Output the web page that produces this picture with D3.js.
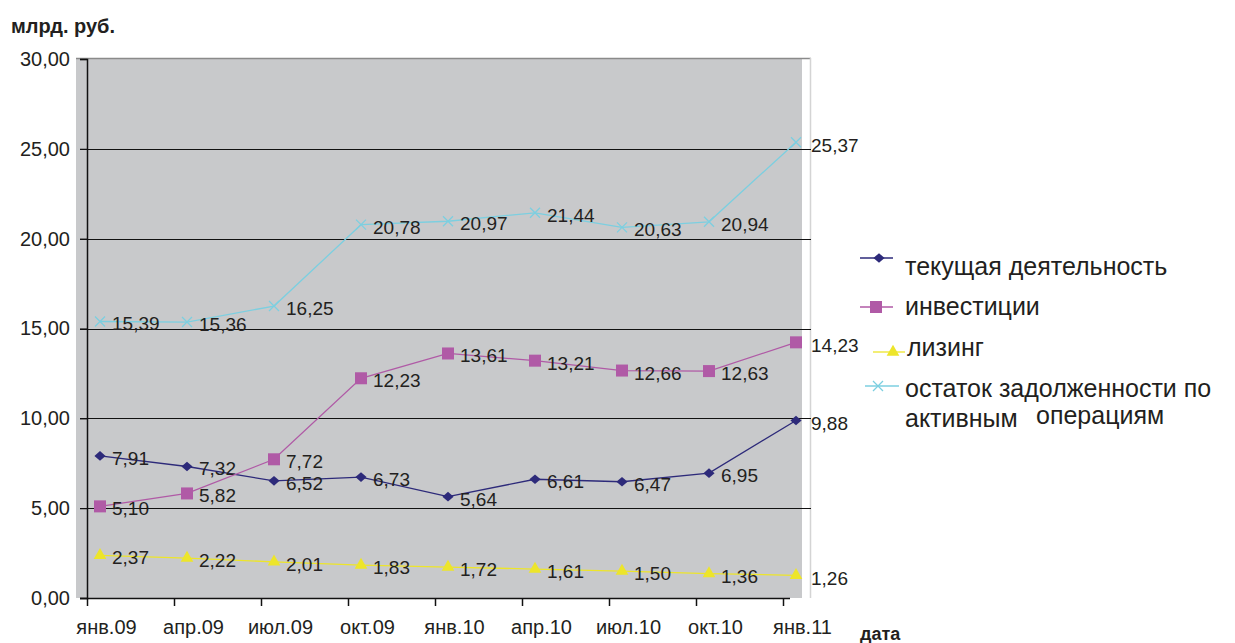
<!DOCTYPE html>
<html>
<head>
<meta charset="utf-8">
<script src="https://cdn.jsdelivr.net/npm/d3@7"></script>
<style>
  body { margin: 0; background: #fff; }
  text { font-family: "Liberation Sans", Arial, sans-serif; fill: #231f20; }
</style>
</head>
<body>
<div id="chart"></div>
<script>
// категории (даты)
const categories = ["янв.09", "апр.09", "июл.09", "окт.09", "янв.10", "апр.10", "июл.10", "окт.10", "янв.11"];

// ряды
const tekushaya = [7.91, 7.32, 6.52, 6.73, 5.64, 6.61, 6.47, 6.95, 9.88];
const investicii = [5.10, 5.82, 7.72, 12.23, 13.61, 13.21, 12.66, 12.63, 14.23];
const lizing = [2.37, 2.22, 2.01, 1.83, 1.72, 1.61, 1.50, 1.36, 1.26];
const ostatok = [15.39, 15.36, 16.25, 20.78, 20.97, 21.44, 20.63, 20.94, 25.37];

const seriesNames = ["текущая деятельность", "инвестиции", "лизинг", "остаток задолженности по активным операциям"];
const yTicks = [0, 5, 10, 15, 20, 25, 30];

const width = 1235;
const height = 643;

const series = [
    {name: seriesNames[0], values: tekushaya, color: "#2d2a7a", marker: "diamond"},
    {name: seriesNames[1], values: investicii, color: "#b05aa6", marker: "square"},
    {name: seriesNames[2], values: lizing, color: "#ede52a", marker: "triangle"},
    {name: seriesNames[3], values: ostatok, color: "#7ccfe0", marker: "cross"},
];

const svg = d3.select("#chart").append("svg")
    .attr("width", width)
    .attr("height", height)
;

// шкалы
const x = d3.scalePoint()
    .domain(categories)
    .range([100, 796])
;
const y = d3.scaleLinear()
    .domain([0, 30])
    .range([598, 59])
;

// серый фон
svg.append("rect")
    .attr("x", 76).attr("y", 58)
    .attr("width", 726).attr("height", 540)
    .attr("fill", "#c8c9cb")
;
// рамка сверху и справа
svg.append("line")
    .attr("x1", 76).attr("x2", 811).attr("y1", 58.5).attr("y2", 58.5)
    .attr("stroke", "#8a8a8a").attr("stroke-width", 1.5)
;
svg.append("line")
    .attr("x1", 810.5).attr("x2", 810.5).attr("y1", 58).attr("y2", 598)
    .attr("stroke", "#d4d4d4").attr("stroke-width", 1.5)
;

// сетка
svg.append("g")
    .selectAll("line")
    .data(yTicks.filter(d => d > 0 && d < 30))
    .join("line")
        .attr("x1", 80).attr("x2", 811)
        .attr("y1", d => Math.round(y(d)) + 0.5)
        .attr("y2", d => Math.round(y(d)) + 0.5)
        .attr("stroke", "#111").attr("stroke-width", 1.2)
;

// ось Y
const yAxis = svg.append("g")
    .attr("transform", "translate(87,0)")
    .call(d3.axisLeft(y).tickValues(yTicks).tickSize(7).tickPadding(10)
        .tickFormat(d => d3.format(".2f")(d).replace(".", ",")))
;
yAxis.select(".domain").attr("stroke", "#111").attr("stroke-width", 1.5);
yAxis.selectAll(".tick line").attr("stroke", "#111").attr("stroke-width", 1.2);
yAxis.selectAll("text")
    .attr("font-size", 20)
    .attr("fill", "#231f20")
    .attr("font-family", "Liberation Sans, Arial, sans-serif")
;

// ось X
const xAxis = svg.append("g")
    .attr("transform", "translate(0,598)")
    .call(d3.axisBottom(x).tickSize(8).tickPadding(14).tickSizeOuter(0))
;
xAxis.select(".domain").attr("d", "M80,0.5H790").attr("stroke", "#111").attr("stroke-width", 1.5);
xAxis.selectAll(".tick line").attr("transform", "translate(-13,0)").attr("stroke", "#111").attr("stroke-width", 1.5);
xAxis.selectAll("text")
    .attr("transform", "translate(6,0)")
    .attr("font-size", 20)
    .attr("fill", "#231f20")
    .attr("font-family", "Liberation Sans, Arial, sans-serif")
;

// маркеры
function drawMarker(g, type, color) {
    if (type === "diamond") {
        g.append("path").attr("d", d3.symbol(d3.symbolDiamond2, 60)).attr("fill", color)
            .attr("transform", "scale(1.15,1)");
    } else if (type === "square") {
        g.append("rect").attr("x", -6).attr("y", -6).attr("width", 12).attr("height", 12).attr("fill", color);
    } else if (type === "triangle") {
        g.append("path").attr("d", d3.symbol(d3.symbolTriangle, 70)).attr("fill", color);
    } else if (type === "cross") {
        g.append("path").attr("d", "M-5,-5L5,5M-5,5L5,-5").attr("stroke", color).attr("stroke-width", 1.3).attr("fill", "none");
    }
}

const line = d3.line()
    .x((d, i) => x(categories[i]))
    .y(d => y(d))
;

series.forEach(s => {
    const g = svg.append("g");
    g.append("path")
        .attr("d", line(s.values))
        .attr("fill", "none")
        .attr("stroke", s.color)
        .attr("stroke-width", 1.3)
    ;
    g.selectAll("g.pt")
        .data(s.values)
        .join("g")
            .attr("class", "pt")
            .attr("transform", (d, i) => `translate(${x(categories[i])},${y(d)})`)
            .each(function() { drawMarker(d3.select(this), s.marker, s.color); })
    ;
    g.selectAll("text")
        .data(s.values)
        .join("text")
            .attr("x", (d, i) => x(categories[i]) + (i === categories.length - 1 ? 15 : 12))
            .attr("y", (d, i) => y(d) + (i === categories.length - 1 ? 10 : 9))
            .attr("font-size", 19)
            .text(d => d3.format(".2f")(d).replace(".", ","))
    ;
});

// легенда
const legendY = [258, 307, 352, 386];
const legendLine = [[860, 893, 879], [860, 893, 876], [873, 905, 893], [865, 899, 878]];
const legendTextY = [275, 315, 356, 397];

series.forEach((s, i) => {
    const [x1, x2, xm] = legendLine[i];
    svg.append("line")
        .attr("x1", x1).attr("x2", x2)
        .attr("y1", legendY[i]).attr("y2", legendY[i])
        .attr("stroke", s.color).attr("stroke-width", 1.3)
    ;
    const m = svg.append("g").attr("transform", `translate(${xm},${legendY[i]})`);
    drawMarker(m, s.marker, s.color);
});

svg.append("text").attr("x", 905).attr("y", legendTextY[0]).attr("font-size", 25).text("текущая деятельность");
svg.append("text").attr("x", 905).attr("y", legendTextY[1]).attr("font-size", 25).text("инвестиции");
svg.append("text").attr("x", 907).attr("y", legendTextY[2]).attr("font-size", 25).text("лизинг");
svg.append("text").attr("x", 905).attr("y", legendTextY[3]).attr("font-size", 25).text("остаток задолженности по");
svg.append("text").attr("x", 905).attr("y", 427).attr("font-size", 25).text("активным");
svg.append("text").attr("x", 1036).attr("y", 424).attr("font-size", 25).text("операциям");

// подписи осей
svg.append("text")
    .attr("x", 11).attr("y", 33)
    .attr("font-size", 20).attr("font-weight", "bold")
    .text("млрд. руб.")
;
svg.append("text")
    .attr("x", 860).attr("y", 640)
    .attr("font-size", 18).attr("font-weight", "bold")
    .text("дата")
;
</script>
</body>
</html>
